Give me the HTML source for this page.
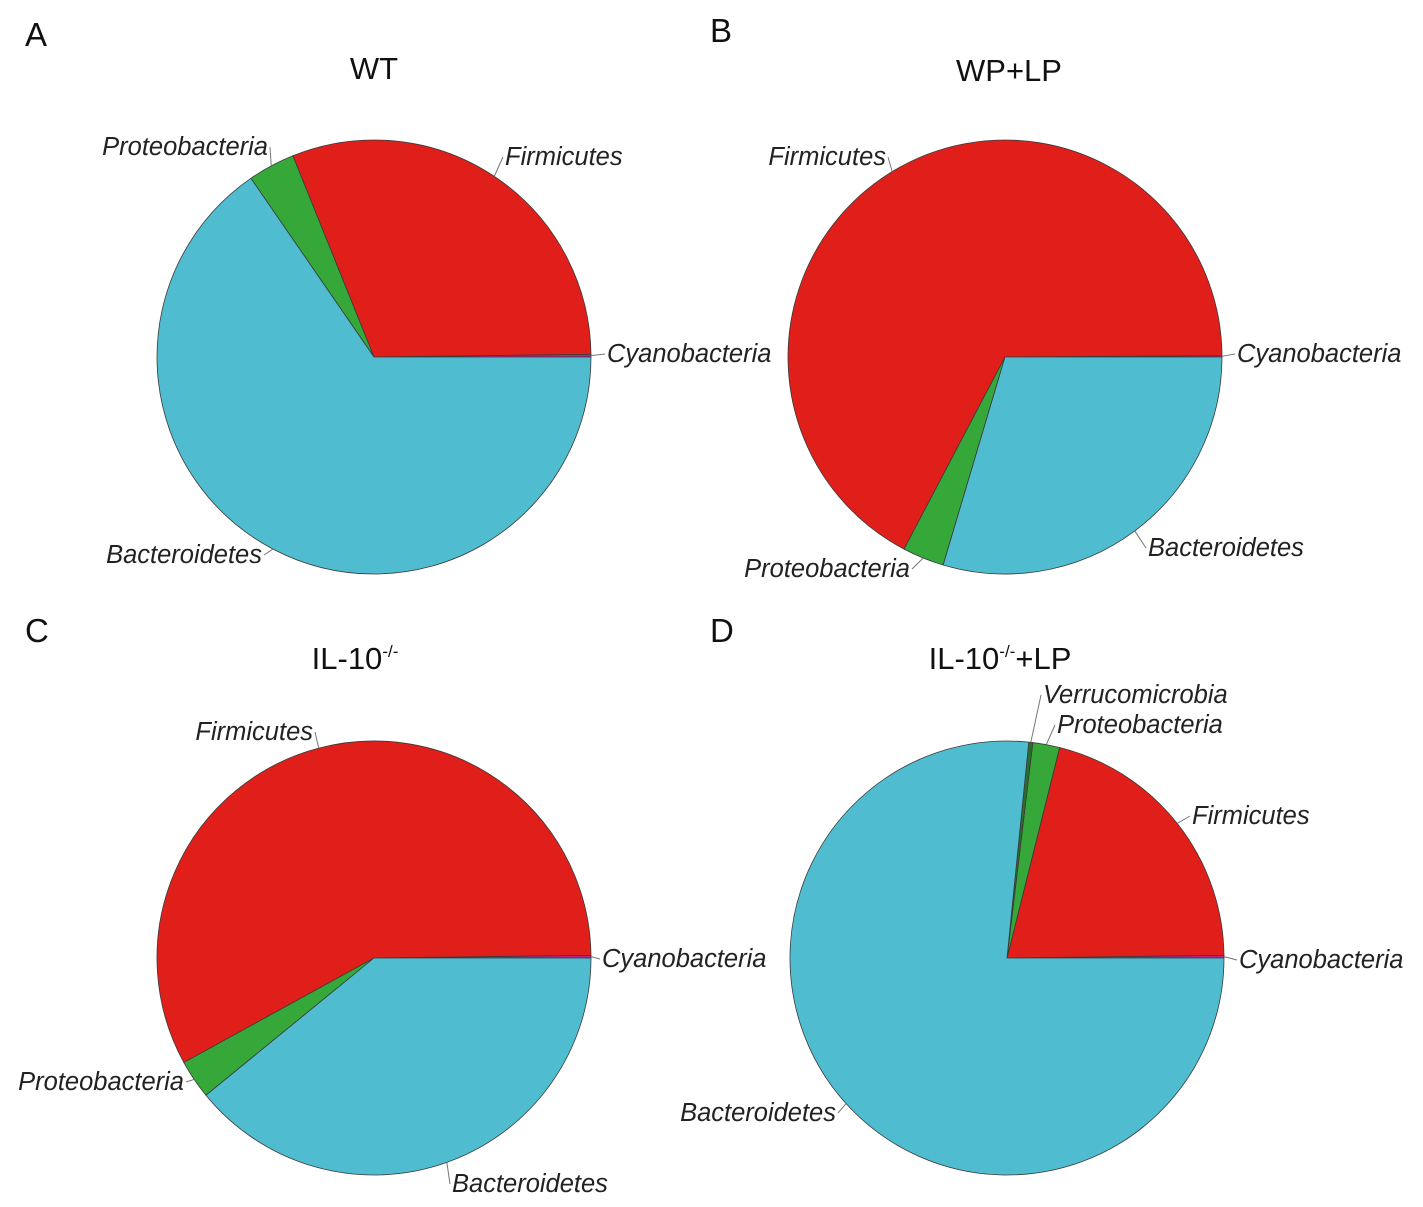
<!DOCTYPE html>
<html><head><meta charset="utf-8">
<style>
html,body{margin:0;padding:0;background:#fff;}
svg{display:block;font-family:"Liberation Sans",Arial,sans-serif;}
.lbl{font-size:25.5px;font-style:italic;fill:#222;}
.ttl{font-size:31px;fill:#111;}
.pl{font-size:33px;fill:#111;}
</style></head>
<body>
<svg id="chart" width="1423" height="1207" viewBox="0 0 1423 1207" xmlns="http://www.w3.org/2000/svg">
<text class="pl" x="25" y="46">A</text>
<text class="pl" x="710" y="42">B</text>
<text class="pl" x="25" y="642">C</text>
<text class="pl" x="710" y="642">D</text>
<text class="ttl" x="374" y="79" text-anchor="middle">WT</text>
<text class="ttl" x="1009" y="81" text-anchor="middle">WP+LP</text>
<text class="ttl" x="355" y="669" text-anchor="middle">IL-10<tspan font-size="17" dy="-12">-/-</tspan></text>
<text class="ttl" x="1000" y="669" text-anchor="middle">IL-10<tspan font-size="17" dy="-12">-/-</tspan><tspan dy="12">+LP</tspan></text>
<g id="pies"></g>
</svg>
<script>
const categories = ["Cyanobacteria","Firmicutes","Proteobacteria","Verrucomicrobia","Bacteroidetes"];
const colors = ["#c0208a","#e01f1b","#36a83a","#2a6e2c","#4fbcd0"];
const valuesWT   = [0.2, 30.9, 3.5, 0, 65.4];
const valuesWPLP = [0.1, 67.2, 3.1, 0, 29.6];
const valuesIL10 = [0.2, 57.8, 2.9, 0, 39.1];
const valuesIL10LP = [0.2, 20.9, 2.0, 0.3, 76.6];
const pies = [
 {name:"wt", vals:valuesWT, cx:374, cy:357, r:217,
  labels:{Cyanobacteria:[607,362,"start"],Firmicutes:[505,165,"start"],Proteobacteria:[268,155,"end"],Bacteroidetes:[262,563,"end"]}},
 {name:"wp-lp", vals:valuesWPLP, cx:1005, cy:357, r:217,
  labels:{Cyanobacteria:[1237,362,"start"],Firmicutes:[886,165,"end"],Proteobacteria:[910,577,"end"],Bacteroidetes:[1148,556,"start"]}},
 {name:"il10", vals:valuesIL10, cx:374, cy:958, r:217,
  labels:{Cyanobacteria:[602,967,"start"],Firmicutes:[313,740,"end"],Proteobacteria:[184,1090,"end"],Bacteroidetes:[452,1192,"start"]}},
 {name:"il10-lp", vals:valuesIL10LP, cx:1007, cy:958, r:217,
  labels:{Cyanobacteria:[1239,968,"start"],Firmicutes:[1192,824,"start"],Proteobacteria:[1057,733,"start"],Verrucomicrobia:[1043,703,"start"],Bacteroidetes:[836,1121,"end"]}}
];
const NS="http://www.w3.org/2000/svg";
const g=document.getElementById("pies");
function pt(p,a,r){return [p.cx+r*Math.cos(a), p.cy-r*Math.sin(a)];}
pies.forEach(p=>{
  const tot=p.vals.reduce((a,b)=>a+b,0);
  let a0=0;
  p.vals.forEach((v,i)=>{
    if(v<=0) return;
    const a1=a0+v/tot*2*Math.PI;
    const s=pt(p,a0,p.r), e=pt(p,a1,p.r);
    const large=(a1-a0)>Math.PI?1:0;
    const path=document.createElementNS(NS,"path");
    path.setAttribute("d",`M${p.cx},${p.cy} L${s[0]},${s[1]} A${p.r},${p.r} 0 ${large} 0 ${e[0]},${e[1]} Z`);
    path.setAttribute("fill",colors[i]);
    path.setAttribute("stroke","#3a3a3a");
    path.setAttribute("stroke-width","0.8");
    
    
    g.appendChild(path);
    const lb=p.labels[categories[i]];
    if(lb){
      const m=(a0+a1)/2, ep=pt(p,m,p.r);
      const ly=lb[1]-8;
      const lx=lb[2]==="start"?lb[0]-2:lb[0]+2;
      const ln=document.createElementNS(NS,"line");
      ln.setAttribute("x1",ep[0]);ln.setAttribute("y1",ep[1]);
      ln.setAttribute("x2",lx);ln.setAttribute("y2",ly);
      ln.setAttribute("stroke","#777");ln.setAttribute("stroke-width","1");
      
      
      g.appendChild(ln);
      const t=document.createElementNS(NS,"text");
      t.setAttribute("x",lb[0]);t.setAttribute("y",lb[1]);
      t.setAttribute("text-anchor",lb[2]);
      t.setAttribute("class","lbl");
      t.textContent=categories[i];
      
      
      g.appendChild(t);
    }
    a0=a1;
  });
});
</script>
</body></html>
